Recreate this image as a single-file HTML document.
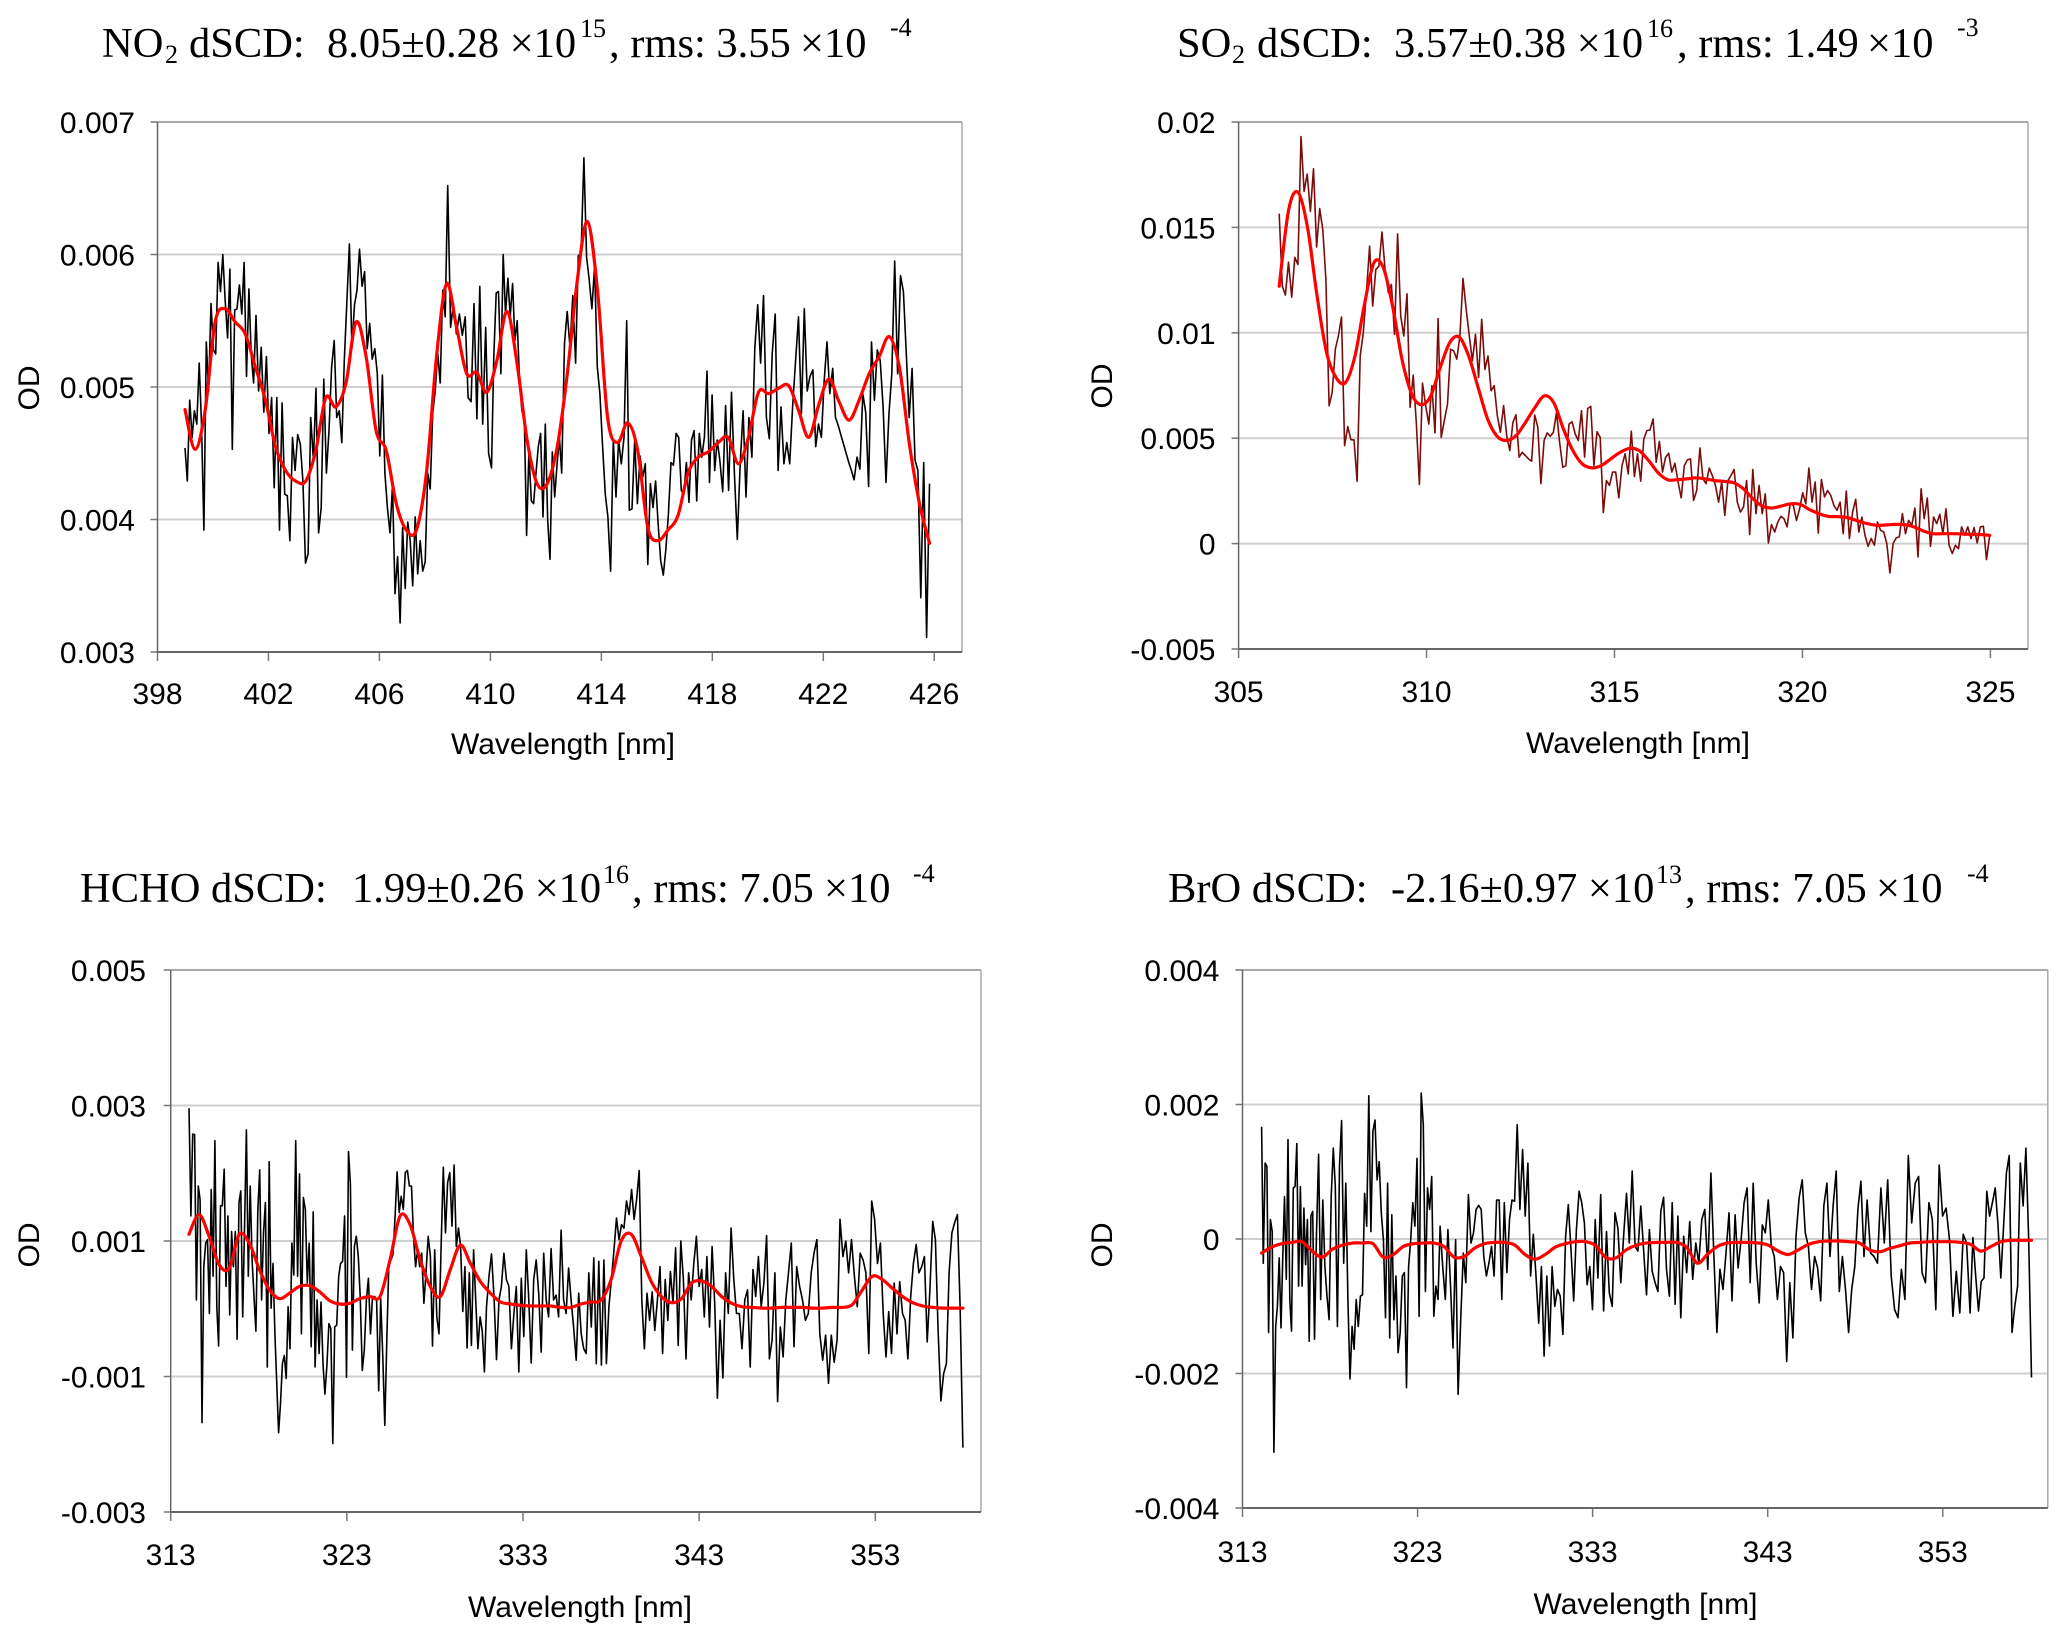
<!DOCTYPE html>
<html lang="en">
<head>
<meta charset="utf-8">
<title>DOAS spectral fits</title>
<style>
html,body{margin:0;padding:0;background:#fff;}
svg{display:block;}
.t{font-family:"Liberation Serif",serif;font-size:42.5px;fill:#000;}
.s{font-family:"Liberation Serif",serif;font-size:26px;fill:#000;}
.a{font-family:"Liberation Sans",sans-serif;font-size:30px;fill:#000;}
</style>
</head>
<body>
<svg id="figure" xmlns="http://www.w3.org/2000/svg" width="2067" height="1641" viewBox="0 0 2067 1641">
<rect width="2067" height="1641" fill="#fff"/>

<g>
<text class="t" x="102" y="57">NO</text><text class="s" x="165" y="63">2</text><text class="t" x="189" y="57">dSCD:</text><text class="t" x="327" y="57">8.05±0.28 ×10</text><text class="s" x="580" y="37">15</text><text class="t" x="609" y="57">, rms: 3.55</text><text class="t" x="800" y="57">×10</text><text class="s" x="890" y="36">-4</text>
</g>
<g>
<text class="t" x="1177" y="57">SO</text><text class="s" x="1232" y="63">2</text><text class="t" x="1257" y="57">dSCD:</text><text class="t" x="1394" y="57">3.57±0.38 ×10</text><text class="s" x="1647" y="37">16</text><text class="t" x="1677" y="57">, rms: 1.49</text><text class="t" x="1867" y="57">×10</text><text class="s" x="1957" y="36">-3</text>
</g>
<g>
<text class="t" x="80" y="902">HCHO dSCD:</text><text class="t" x="352" y="902">1.99±0.26 ×10</text><text class="s" x="603" y="883">16</text><text class="t" x="632" y="902">, rms: 7.05</text><text class="t" x="824" y="902">×10</text><text class="s" x="913" y="882">-4</text>
</g>
<g>
<text class="t" x="1168" y="902">BrO dSCD:</text><text class="t" x="1391" y="902">-2.16±0.97 ×10</text><text class="s" x="1656" y="883">13</text><text class="t" x="1685" y="902">, rms: 7.05</text><text class="t" x="1876" y="902">×10</text><text class="s" x="1967" y="882">-4</text>
</g>
</svg>

<script>
// All OD series are stored in units of 1e-5 OD.
const odUnit = 1e-5;

// ---------- NO2 ----------
const no2XTicks = [398, 402, 406, 410, 414, 418, 422, 426];
const no2YTicks = [0.003, 0.004, 0.005, 0.006, 0.007];
const no2YLabels = ["0.003", "0.004", "0.005", "0.006", "0.007"];
// wavelength calibration of measured samples: sample number -> nm
const no2SampleNumbers = [0, 30, 60, 90, 105, 120, 150, 158, 180, 210, 240, 250, 257, 283];
const no2SampleNm = [398.99, 401.55, 404.37, 407.11, 408.46, 410.04, 412.57, 413.37, 415.49, 418.27, 421.42, 422.44, 423.11, 425.83];
const no2Measured = [
454,429,490,462,482,472,518,472,392,534,497,563,528,525,594,572,600,565,537,589,453,558,559,577,555,594,508,574,525,503,
554,497,530,481,523,465,492,424,492,392,488,419,418,384,462,437,464,457,429,367,374,477,445,499,390,409,506,435,467,515,
535,477,482,458,520,565,608,530,562,573,604,576,587,529,548,521,529,510,448,509,435,409,390,426,344,372,322,394,348,398,
384,350,402,359,384,361,368,435,423,480,497,526,503,573,553,652,545,563,540,555,539,553,492,489,563,476,576,472,545,450,
439,523,571,572,510,600,555,582,553,578,535,550,503,482,477,388,451,414,412,435,455,465,402,472,399,370,451,417,441,462,
435,533,557,530,569,518,599,601,673,598,581,559,591,515,495,455,419,402,361,460,417,460,442,462,550,407,408,460,412,448,
432,442,366,427,409,429,397,369,358,377,404,443,441,465,462,422,419,443,413,460,467,414,465,447,462,512,428,494,437,460,
445,421,486,422,496,435,385,442,482,417,477,447,529,562,518,569,477,461,525,555,437,485,442,458,442,485,520,553,480,559,
497,508,513,455,472,462,505,534,495,514,477,471,464,457,450,443,437,430,447,438,495,481,425,534,490,528,520,485,428,479,
510,595,510,584,572,525,477,514,445,437,341,443,311,427];
const no2FitNm = [398.99, 425.83];
const no2Fit = [
483,453,482,549,559,549,540,515,490,455,437,429,429,452,492,485,503,549,523,467,452,412,392,392,435,523,578,545,510,511,
496,520,557,518,460,427,427,455,510,581,625,573,477,458,473,452,394,384,392,403,435,447,451,458,462,442,462,496,495,499,
501,482,462,487,506,489,475,490,510,523,538,515,457,412,382];

// ---------- SO2 ----------
const so2XTicks = [305, 310, 315, 320, 325];
const so2YTicks = [-0.005, 0, 0.005, 0.01, 0.015, 0.02];
const so2YLabels = ["-0.005", "0", "0.005", "0.01", "0.015", "0.02"];
const so2SampleNumbers = [0, 228];
const so2SampleNm = [306.08, 324.98];
const so2Measured = [
1565,1221,1179,1335,1169,1358,1324,1931,1671,1753,1576,1778,1407,1589,1489,1253,654,717,922,985,1075,465,555,493,492,296,890,1001,1190,1411,
1127,1300,1316,1478,1300,1190,1229,993,1469,1080,985,1185,646,799,575,281,761,654,567,749,525,1067,504,583,662,922,914,875,985,1258,
1111,985,867,993,788,1064,827,890,725,749,607,528,654,512,441,575,611,410,433,418,402,391,610,552,284,489,525,509,528,622,
481,362,370,567,578,520,489,630,410,641,651,370,531,504,147,299,276,339,339,217,370,426,331,533,318,426,296,496,536,539,
591,386,485,339,410,429,339,381,292,217,370,397,402,205,252,454,307,284,358,323,276,197,292,134,299,323,351,197,150,173,
299,43,351,142,276,142,236,3,90,55,102,129,118,79,189,181,110,165,241,189,358,197,292,50,304,221,252,229,181,158,
197,47,249,24,150,210,55,126,39,-13,24,-8,102,63,55,0,-139,0,27,32,142,47,110,87,169,-63,260,118,216,-13,
126,95,139,47,165,-8,-47,-8,-24,79,39,79,24,76,3,79,82,-76,39];
const so2FitNm = [306.08, 324.98];
const so2Fit = [
1221,1584,1666,1497,1174,906,788,764,890,1135,1332,1308,1119,867,709,659,701,835,953,980,890,741,591,509,489,512,575,646,701,667,
544,441,378,359,370,402,433,452,441,394,336,303,303,307,312,307,299,295,288,260,213,178,169,178,189,186,161,142,129,128,
123,109,96,87,88,91,90,79,60,47,47,47,46,44,43,39];

// ---------- HCHO ----------
const hchoXTicks = [313, 323, 333, 343, 353];
const hchoYTicks = [-0.003, -0.001, 0.001, 0.003, 0.005];
const hchoYLabels = ["-0.003", "-0.001", "0.001", "0.003", "0.005"];
const hchoSampleNumbers = [0, 30, 60, 90, 120, 150, 180, 210, 240, 270, 300, 329];
const hchoSampleNm = [314.04, 317.19, 320.42, 323.76, 327.25, 330.93, 335.16, 339.45, 343.88, 348.54, 353.45, 357.97];
const hchoMeasured = [
296,137,258,257,13,181,161,-168,62,97,102,-7,176,48,248,3,-55,152,152,206,33,137,-9,114,62,114,-45,157,174,-12,
117,264,48,181,72,18,-33,144,205,13,112,157,-86,217,1,67,-37,-108,-183,-140,-81,-69,-103,3,-59,97,50,248,48,199,
-37,164,147,38,97,-56,143,-86,13,-66,10,-81,-126,-84,-22,-29,-199,-27,-24,48,67,70,137,-101,232,184,-61,92,107,77,
18,-91,-61,13,45,-37,18,18,13,-121,15,-71,-172,-41,70,72,80,137,202,142,166,147,201,204,181,181,107,62,87,62,
82,8,53,107,77,-55,87,-12,-37,97,209,112,186,201,122,212,92,119,92,-4,62,-58,53,-54,87,13,-59,-12,-32,-93,
3,48,81,18,-75,13,33,82,43,33,-59,-7,33,-93,45,-41,87,13,-80,43,72,23,-64,82,13,-12,89,13,20,-12,
116,13,-7,60,13,-27,-76,23,-37,-59,-66,53,-27,75,-81,70,-83,72,-81,3,43,87,134,102,124,119,159,139,176,132,
161,204,13,-59,23,-17,25,-32,13,62,-66,43,-17,55,8,90,-54,100,43,-74,53,13,67,107,33,58,-12,77,-27,92,
8,-132,-17,-102,53,-7,119,43,-7,-7,-59,13,28,-86,58,18,77,3,38,108,-74,-46,53,-137,-27,-71,13,53,97,-56,
62,33,13,-17,-7,53,82,102,-37,-76,-39,-110,-39,-79,-46,132,77,100,53,102,48,3,82,72,53,-66,159,132,67,97,
-7,-71,-4,-66,38,-37,40,-7,-17,-74,18,67,95,53,62,77,-49,28,129,102,-32,-136,-96,-81,53,112,127,139,3,-205];
const hchoFitNm = [314.04, 357.97];
const hchoFit = [
110,139,107,65,60,110,97,58,28,15,23,33,34,25,12,7,8,15,18,18,72,137,124,72,33,18,58,94,67,40,
23,10,7,5,4,4,4,2,2,7,10,13,43,100,110,77,40,18,9,15,38,41,33,18,8,3,2,1,1,2,
2,2,1,1,2,2,6,28,48,43,30,18,9,4,2,1,1,1];

// ---------- BrO ----------
const broXTicks = [313, 323, 333, 343, 353];
const broYTicks = [-0.004, -0.002, 0, 0.002, 0.004];
const broYLabels = ["-0.004", "-0.002", "0", "0.002", "0.004"];
const broSampleNumbers = [0, 30, 60, 90, 120, 150, 180, 210, 240, 270, 292];
const broSampleNm = [314.09, 317.11, 320.69, 324.29, 328.69, 333.30, 338.20, 343.38, 348.68, 354.56, 358.07];
const broMeasured = [
167,-36,113,108,-139,29,11,-317,-130,-100,-28,-132,-31,63,-60,148,-90,-137,76,78,142,-70,78,-70,46,-38,29,-152,34,41,
-149,9,126,-90,58,-41,-85,-120,63,135,78,-130,109,176,-36,83,-90,-208,-130,-164,-90,-130,-85,-83,68,19,213,11,160,177,
88,115,39,-1,-117,83,-147,36,-120,-55,-169,-139,-55,-50,-221,-41,-1,54,19,120,-115,217,170,-78,76,44,93,-115,-70,-90,
19,-41,-90,14,-65,-162,-1,-231,-120,-21,-65,66,-6,9,44,50,44,-26,-55,-36,-11,-55,58,58,-90,54,-50,29,58,56,170,44,
133,34,113,-55,7,-55,-125,-41,-174,-55,-159,-41,-100,-75,-85,-142,4,51,-16,-92,14,71,54,24,-68,-41,-105,29,-58,66,
-107,11,-80,-100,39,16,-65,4,68,-6,101,-11,-18,49,-16,-83,14,-48,-65,-78,41,62,-45,-85,54,-97,34,-117,4,-50,
26,-60,-6,-36,29,44,-45,98,-26,-139,-45,-75,-21,39,-92,36,-43,-1,54,76,-65,83,-36,-95,21,9,58,-11,-26,-90,
-41,-50,-182,-65,-147,4,61,88,9,-11,-75,-26,-43,-92,49,83,-26,49,101,-78,-26,-75,-139,-75,-41,44,86,-26,58,-21,
-26,-36,76,-6,88,-55,-105,-117,-45,-90,124,24,83,93,-50,-65,54,29,-105,110,34,46,-1,-115,-48,-110,7,-6,-110,2,
-55,-107,-63,-58,71,34,54,76,21,-58,19,98,124,-139,-100,-70,113,49,135,-1,-206];
const broFitNm = [314.09, 358.07];
const broFit = [
-21,-12,-7,-5,-4,-18,-27,-15,-9,-6,-6,-7,-27,-23,-11,-7,-6,-6,-11,-27,-26,-14,-7,-5,-5,-9,-23,-30,-23,-12,
-7,-4,-4,-10,-28,-28,-16,-9,-6,-5,-5,-5,-13,-36,-23,-11,-6,-5,-5,-6,-9,-18,-23,-16,-8,-4,-3,-3,-4,-6,
-16,-19,-14,-10,-6,-5,-4,-4,-4,-5,-8,-18,-11,-4,-2,-2,-2];

const svgNS = "http://www.w3.org/2000/svg";
const figure = document.getElementById("figure");

function make(tag, attrs, parent) {
  const el = document.createElementNS(svgNS, tag);
  for (const k in attrs) el.setAttribute(k, attrs[k]);
  parent.appendChild(el);
  return el;
}

function linearScale(d0, d1, r0, r1) {
  return function (v) { return r0 + (v - d0) * (r1 - r0) / (d1 - d0); };
}

// measured samples: wavelength from the calibration table
function calibratedWavelengths(numbers, nm, values) {
  return values.map(function (_, i) {
    let k = 0;
    while (k < numbers.length - 2 && i > numbers[k + 1]) k++;
    const f = (i - numbers[k]) / (numbers[k + 1] - numbers[k]);
    return nm[k] + f * (nm[k + 1] - nm[k]);
  });
}

// fit curve: evenly spaced between its two end wavelengths
function evenWavelengths(range, values) {
  const step = (range[1] - range[0]) / (values.length - 1);
  return values.map(function (_, i) { return range[0] + i * step; });
}

function straightPath(xs, ys, sx, sy) {
  return xs.map(function (x, i) {
    return (i ? "L" : "M") + sx(x).toFixed(1) + " " + sy(ys[i] * odUnit).toFixed(1);
  }).join("");
}

function smoothPath(xs, ys, sx, sy) {
  const p = xs.map(function (x, i) { return [sx(x), sy(ys[i] * odUnit)]; });
  let d = "M" + p[0][0].toFixed(1) + " " + p[0][1].toFixed(1);
  for (let i = 0; i < p.length - 1; i++) {
    const a = p[Math.max(i - 1, 0)], b = p[i], c = p[i + 1], e = p[Math.min(i + 2, p.length - 1)];
    d += "C" + (b[0] + (c[0] - a[0]) / 6).toFixed(1) + " " + (b[1] + (c[1] - a[1]) / 6).toFixed(1) +
      " " + (c[0] - (e[0] - b[0]) / 6).toFixed(1) + " " + (c[1] - (e[1] - b[1]) / 6).toFixed(1) +
      " " + c[0].toFixed(1) + " " + c[1].toFixed(1);
  }
  return d;
}

function drawPanel(cfg) {
  const g = make("g", {}, figure);
  
  
  const sx = linearScale(cfg.xDomain[0], cfg.xDomain[1], cfg.left, cfg.right);
  const sy = linearScale(cfg.yTicks[0], cfg.yTicks[cfg.yTicks.length - 1], cfg.bottom, cfg.top);

  cfg.yTicks.forEach(function (v, i) {
    const y = sy(v);
    if (i > 0 && i < cfg.yTicks.length - 1) {
      const grid = make("line", { x1: cfg.left, x2: cfg.right, y1: y, y2: y, stroke: "#cfcfcf", "stroke-width": 2 }, g);
      
      
    }
    const tick = make("line", { x1: cfg.left - 7, x2: cfg.left, y1: y, y2: y, stroke: "#777", "stroke-width": 1.5 }, g);
    
    
    const label = make("text", { x: cfg.yLabelX, y: y + 11, "text-anchor": "end", "class": "a" }, g);
    
    
    label.textContent = cfg.yLabels[i];
  });

  cfg.xTicks.forEach(function (v) {
    const x = sx(v);
    const tick = make("line", { x1: x, x2: x, y1: cfg.bottom, y2: cfg.bottom + 9, stroke: "#777", "stroke-width": 1.5 }, g);
    
    
    const label = make("text", { x: x, y: cfg.xLabelY, "text-anchor": "middle", "class": "a" }, g);
    
    
    label.textContent = String(v);
  });

  const top = make("line", { x1: cfg.left, x2: cfg.right, y1: cfg.top, y2: cfg.top, stroke: "#a8a8a8", "stroke-width": 2 }, g);
  
  
  const right = make("line", { x1: cfg.right, x2: cfg.right, y1: cfg.top, y2: cfg.bottom, stroke: "#a8a8a8", "stroke-width": 1.5 }, g);
  
  
  const yAxis = make("line", { x1: cfg.left, x2: cfg.left, y1: cfg.top, y2: cfg.bottom, stroke: "#666", "stroke-width": 1.5 }, g);
  
  
  const xAxis = make("line", { x1: cfg.left, x2: cfg.right, y1: cfg.bottom, y2: cfg.bottom, stroke: "#666", "stroke-width": 2 }, g);
  
  

  const xTitle = make("text", { x: cfg.xTitleX, y: cfg.xTitleY, "text-anchor": "middle", "class": "a" }, g);
  
  
  xTitle.textContent = "Wavelength [nm]";
  const yTitle = make("text", { transform: "translate(" + cfg.yTitleX + "," + cfg.yTitleY + ") rotate(-90)", "text-anchor": "middle", "class": "a" }, g);
  
  
  yTitle.textContent = "OD";

  const measured = make("path", {
    d: straightPath(calibratedWavelengths(cfg.sampleNumbers, cfg.sampleNm, cfg.measured), cfg.measured, sx, sy),
    fill: "none", stroke: cfg.color, "stroke-width": 1.6, "stroke-linejoin": "round"
  }, g);
  
  

  const fit = make("path", {
    d: smoothPath(evenWavelengths(cfg.fitNm, cfg.fit), cfg.fit, sx, sy),
    fill: "none", stroke: "#ff0000", "stroke-width": 3.2, "stroke-linejoin": "round", "stroke-linecap": "round"
  }, g);
  
  
}

drawPanel({ id: "no2", left: 157.5, right: 962, top: 122, bottom: 652, xDomain: [398, 427],
  xTicks: no2XTicks, yTicks: no2YTicks, yLabels: no2YLabels,
  sampleNumbers: no2SampleNumbers, sampleNm: no2SampleNm, fitNm: no2FitNm,
  measured: no2Measured, fit: no2Fit, color: "#000", yLabelX: 135, xLabelY: 704,
  xTitleX: 563, xTitleY: 754, yTitleX: 39, yTitleY: 388 });
drawPanel({ id: "so2", left: 1238.6, right: 2028, top: 122, bottom: 649, xDomain: [305, 326],
  xTicks: so2XTicks, yTicks: so2YTicks, yLabels: so2YLabels,
  sampleNumbers: so2SampleNumbers, sampleNm: so2SampleNm, fitNm: so2FitNm,
  measured: so2Measured, fit: so2Fit, color: "#7a0c0c", yLabelX: 1215.5, xLabelY: 702,
  xTitleX: 1638, xTitleY: 753, yTitleX: 1112, yTitleY: 386 });
drawPanel({ id: "hcho", left: 170.7, right: 981, top: 970, bottom: 1512, xDomain: [313, 359],
  xTicks: hchoXTicks, yTicks: hchoYTicks, yLabels: hchoYLabels,
  sampleNumbers: hchoSampleNumbers, sampleNm: hchoSampleNm, fitNm: hchoFitNm,
  measured: hchoMeasured, fit: hchoFit, color: "#000", yLabelX: 146, xLabelY: 1565,
  xTitleX: 580, xTitleY: 1617, yTitleX: 39, yTitleY: 1245 });
drawPanel({ id: "bro", left: 1242.5, right: 2047.8, top: 970, bottom: 1508, xDomain: [313, 359],
  xTicks: broXTicks, yTicks: broYTicks, yLabels: broYLabels,
  sampleNumbers: broSampleNumbers, sampleNm: broSampleNm, fitNm: broFitNm,
  measured: broMeasured, fit: broFit, color: "#000", yLabelX: 1219.5, xLabelY: 1562,
  xTitleX: 1645.5, xTitleY: 1614, yTitleX: 1112, yTitleY: 1245 });
</script>
</body>
</html>
